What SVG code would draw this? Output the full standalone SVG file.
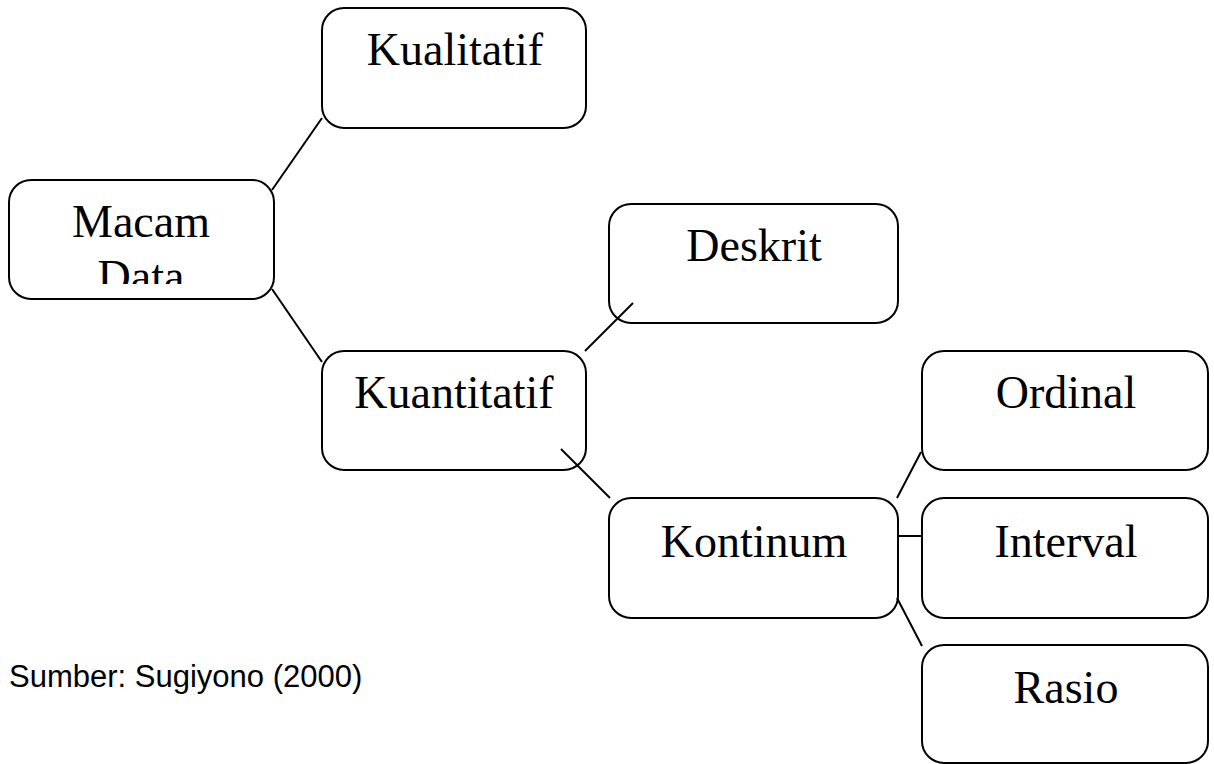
<svg xmlns="http://www.w3.org/2000/svg" width="1214" height="764" viewBox="0 0 1214 764">
  <style>
    .box { fill: #ffffff; stroke: #000000; stroke-width: 2; }
    .lbl { font-family: "Liberation Serif", "DejaVu Serif", serif; font-size: 46px; fill: #000000; text-anchor: middle; }
    .link { stroke: #000000; stroke-width: 2; fill: none; }
    .note { font-family: "Liberation Sans", Arial, sans-serif; font-size: 31px; fill: #000000; }
  </style>
  <defs>
    <clipPath id="clip-macam">
      <rect x="9" y="180" width="265" height="104"/>
    </clipPath>
  </defs>
  <rect width="1214" height="764" fill="#ffffff"/>

  <!-- nodes -->
  <g id="node-macam-data">
    <rect class="box" x="9" y="180" width="265" height="119" rx="22" ry="22"/>
    <g clip-path="url(#clip-macam)">
      <text class="lbl" x="141" y="237">Macam</text>
      <text class="lbl" x="141" y="292">Data</text>
    </g>
  </g>
  <g id="node-kualitatif">
    <rect class="box" x="322" y="8" width="264" height="120" rx="22" ry="22"/>
    <text class="lbl" x="455" y="65">Kualitatif</text>
  </g>
  <g id="node-kuantitatif">
    <rect class="box" x="322" y="351" width="264" height="119" rx="22" ry="22"/>
    <text class="lbl" x="454" y="408">Kuantitatif</text>
  </g>
  <g id="node-deskrit">
    <rect class="box" x="609" y="204" width="289" height="119" rx="22" ry="22"/>
    <text class="lbl" x="754" y="261">Deskrit</text>
  </g>
  <g id="node-kontinum">
    <rect class="box" x="609" y="498" width="289" height="120" rx="22" ry="22"/>
    <text class="lbl" x="754" y="557">Kontinum</text>
  </g>
  <g id="node-ordinal">
    <rect class="box" x="922" y="351" width="286" height="119" rx="22" ry="22"/>
    <text class="lbl" x="1066" y="408">Ordinal</text>
  </g>
  <g id="node-interval">
    <rect class="box" x="922" y="498" width="286" height="120" rx="22" ry="22"/>
    <text class="lbl" x="1066" y="557">Interval</text>
  </g>
  <g id="node-rasio">
    <rect class="box" x="922" y="645" width="286" height="118" rx="22" ry="22"/>
    <text class="lbl" x="1066" y="703">Rasio</text>
  </g>

  <!-- connectors, drawn over the box corners -->
  <g id="connectors">
    <line class="link" x1="272" y1="190" x2="322" y2="118"/>
    <line class="link" x1="272" y1="289" x2="322" y2="362"/>
    <line class="link" x1="585" y1="351" x2="633" y2="303"/>
    <line class="link" x1="561" y1="449" x2="610" y2="498"/>
    <line class="link" x1="897" y1="498" x2="921" y2="452"/>
    <line class="link" x1="897" y1="536" x2="922" y2="536"/>
    <line class="link" x1="897" y1="598" x2="922" y2="646"/>
  </g>

  <text class="note" x="9" y="687">Sumber: Sugiyono (2000)</text>
</svg>
